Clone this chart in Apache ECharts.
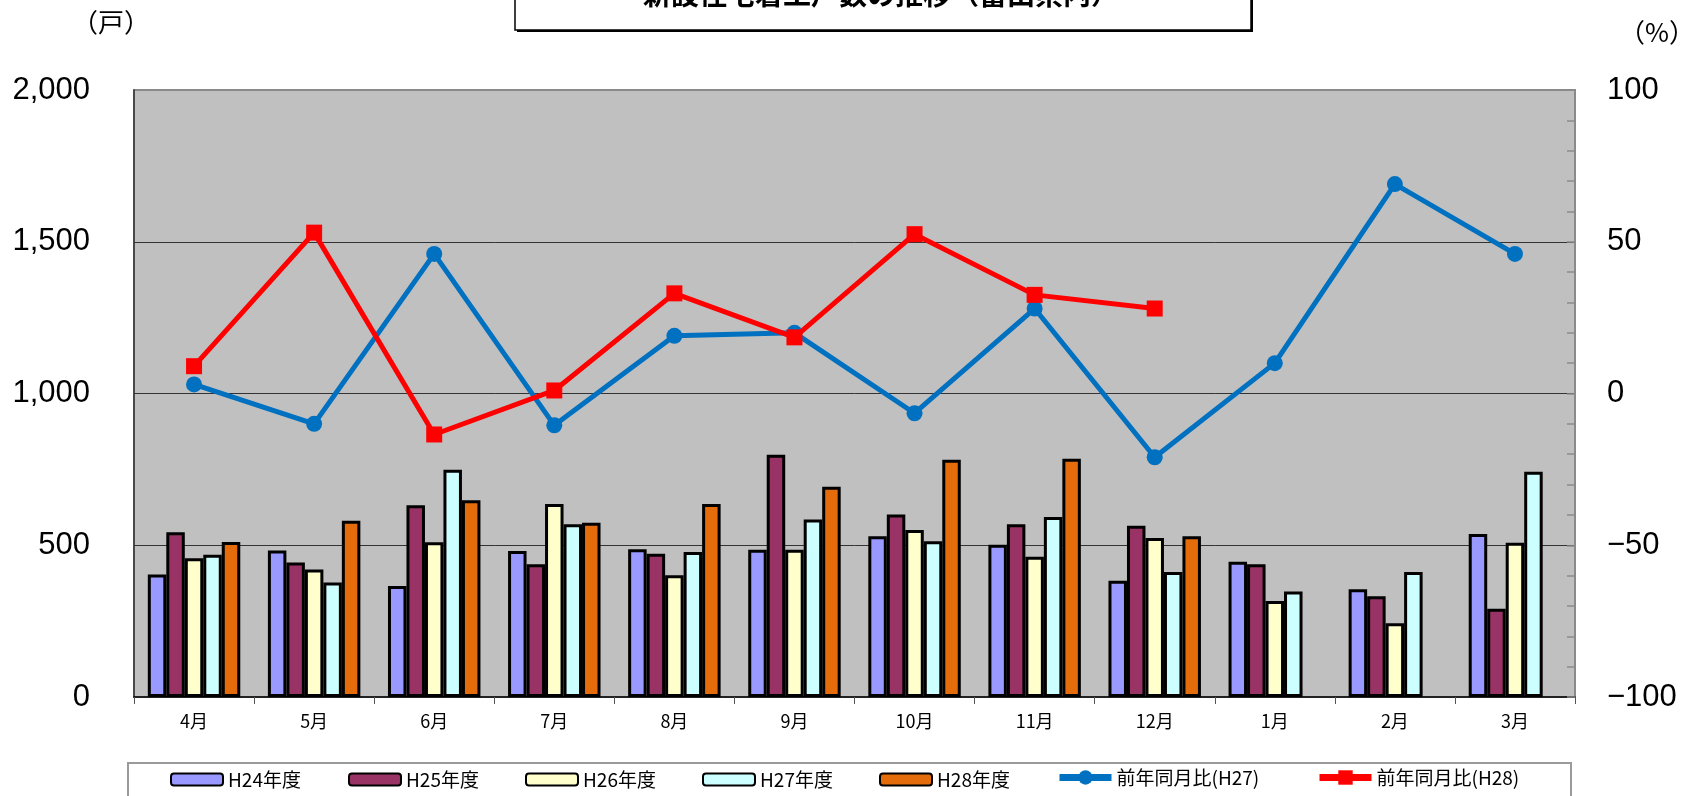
<!DOCTYPE html>
<html>
<head>
<meta charset="utf-8">
<script src="https://cdn.jsdelivr.net/npm/echarts@6/dist/echarts.min.js"></script>
<style>
html,body{margin:0;padding:0;background:#fff;}
#chart{width:1701px;height:796px;}
</style>
</head>
<body>
<div id="chart"></div>
<script>
const months = ['4月','5月','6月','7月','8月','9月','10月','11月','12月','1月','2月','3月'];
const h24 = [404, 483, 366, 481, 487, 485, 530, 502, 383, 446, 355, 537];
const h25 = [543, 443, 632, 437, 472, 798, 601, 569, 564, 437, 332, 291];
const h26 = [457, 420, 510, 636, 401, 485, 550, 462, 524, 316, 243, 508];
const h27 = [469, 377, 749, 569, 478, 585, 513, 593, 412, 348, 412, 742];
const h28 = [511, 581, 648, 574, 636, 693, 782, 785, 530, null, null, null];
const yoyH27 = [3, -10, 46, -10.5, 19, 20, -6.5, 28, -21, 10, 69, 46];
const yoyH28 = [9, 53, -13.5, 1, 33, 18.5, 52.5, 32.5, 28, null, null, null];
const leftTicks = [0, 500, 1000, 1500, 2000];
const rightTicks = [-100, -50, 0, 50, 100];

const chart = echarts.init(document.getElementById('chart'));
const jp = '"Noto Sans CJK JP", "Noto Sans", sans-serif';
const barBorder = {borderColor:'#000', borderWidth:3};
function barSeries(name, data, color){
  return {name, type:'bar', data, yAxisIndex:0, barGap:'0%', barCategoryGap:'23%',
    itemStyle:Object.assign({color}, barBorder), z:2};
}
const names = ['H24年度','H25年度','H26年度','H27年度','H28年度','前年同月比(H27)','前年同月比(H28)'];
const legendX = [170, 348, 525, 702, 879, 1056, 1316];
const legends = names.map((n,i)=>{
  const isLine = i >= 5;
  const ih = isLine ? 18 : 12;
  return {
    data:[n], left:legendX[i], top:isLine ? 768 : 770, padding:0, itemWidth:52, itemHeight:ih, itemGap:0,
    lineStyle:{width:7},
    textStyle:{fontFamily:jp, fontSize:19, color:'#000'}, selectedMode:false
  };
});
chart.setOption({
  animation:false,
  backgroundColor:'#fff',
  grid:{left:134, right:126, top:90, bottom:99, show:true, backgroundColor:'#C0C0C0', borderColor:'#8a8a8a', borderWidth:2},
  legend:legends,
  graphic:[
    {type:'rect', shape:{x:517, y:-10, width:736, height:42}, style:{fill:'#000'}, z:0},
    {type:'rect', shape:{x:515, y:-10, width:736, height:40}, style:{fill:'#fff', stroke:'#000', lineWidth:1.5}, z:1},
    {type:'text', x:881, y:-6, z:2, style:{text:'新設住宅着工戸数の推移（富山県内）', font:'bold 28px "Noto Sans CJK JP"', fill:'#000', align:'center', verticalAlign:'middle'}},
    {type:'rect', shape:{x:128, y:763, width:1443, height:40}, style:{fill:'#fff', stroke:'#9a9a9a', lineWidth:2}, z:-1},
    {type:'text', x:111, y:22, style:{text:'（戸）', font:'26px "Noto Sans CJK JP"', fill:'#000', align:'center', verticalAlign:'middle'}},
    {type:'text', x:1657, y:32, style:{text:'（%）', font:'26px "Noto Sans CJK JP"', fill:'#000', align:'center', verticalAlign:'middle'}}
  ],
  xAxis:{type:'category', data:months,
    axisLine:{lineStyle:{color:'#000', width:1.5}},
    axisTick:{show:true, alignWithLabel:false, length:7, lineStyle:{color:'#555'}},
    axisLabel:{fontFamily:jp, fontSize:18, color:'#000', margin:15}},
  yAxis:[
    {type:'value', min:leftTicks[0], max:leftTicks[leftTicks.length-1], interval:500, position:'left',
      axisLine:{show:true, lineStyle:{color:'#333', width:1.5}},
      axisTick:{show:false},
      splitLine:{show:true, showMinLine:false, showMaxLine:false, lineStyle:{color:'#333', width:1}},
      axisLabel:{fontFamily:'"Liberation Sans", Arial, sans-serif', fontSize:31, color:'#000', margin:44,
        formatter:v=>v.toLocaleString('en-US')}},
    {type:'value', min:rightTicks[0], max:rightTicks[rightTicks.length-1], interval:50, position:'right',
      axisLine:{show:true, lineStyle:{color:'#8a8a8a', width:2}},
      axisTick:{show:true, inside:true, length:8, lineStyle:{color:'#8a8a8a', width:1.5}},
      minorTick:{show:true, splitNumber:5, length:8, lineStyle:{color:'#8a8a8a', width:1.5}},
      splitLine:{show:false},
      axisLabel:{fontFamily:'"Liberation Sans", Arial, sans-serif', fontSize:31, color:'#000', margin:32,
        formatter:v=>String(v).replace('-', '\u2212')}}
  ],
  series:[
    barSeries(names[0], h24, '#9999FF'),
    barSeries(names[1], h25, '#993366'),
    barSeries(names[2], h26, '#FFFFCC'),
    barSeries(names[3], h27, '#CCFFFF'),
    barSeries(names[4], h28, '#E46C0A'),
    {name:names[5], type:'line', yAxisIndex:1, data:yoyH27, symbol:'circle', symbolSize:16,
      lineStyle:{color:'#0070C0', width:5}, itemStyle:{color:'#0070C0'}, z:5},
    {name:names[6], type:'line', yAxisIndex:1, data:yoyH28, symbol:'rect', symbolSize:16,
      lineStyle:{color:'#FF0000', width:5}, itemStyle:{color:'#FF0000'}, z:6}
  ]
});
</script>
</body>
</html>
